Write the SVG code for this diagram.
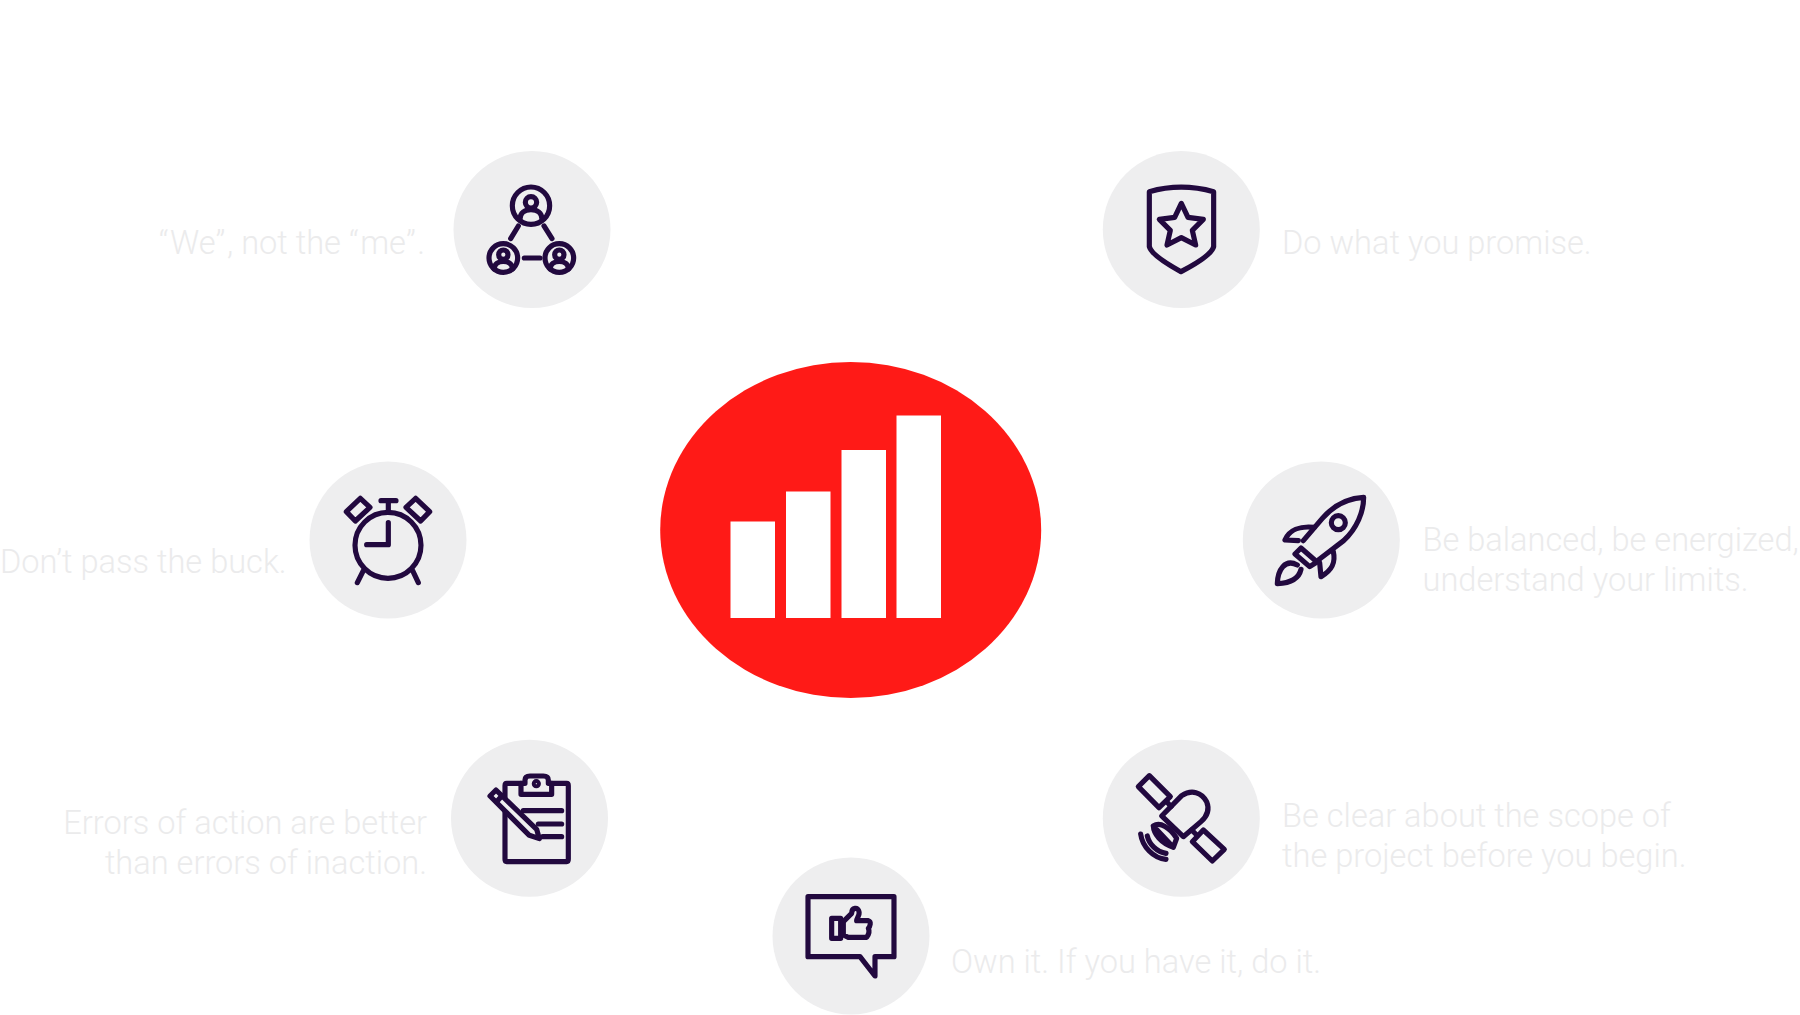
<svg xmlns="http://www.w3.org/2000/svg" width="1800" height="1015" viewBox="0 0 1800 1015">
<style>
.bg{fill:#eeeeef}
.i{fill:none;stroke:#22093f;stroke-width:15.5;stroke-linejoin:round;stroke-linecap:round}
.t{font-family:Roboto,"Liberation Sans",sans-serif;font-weight:300;font-size:32.6px;fill:#ebebec}
.e{text-anchor:end}
.q{letter-spacing:1.5px}
.b{fill:#fff}
</style>
<rect width="1800" height="1015" fill="#fff"/>
<g id="center"><ellipse cx="850.7" cy="530" rx="190.5" ry="168" fill="#ff1a17"/>
<rect class="b" x="730.5" y="521.5" width="44.5" height="96.5"/><rect class="b" x="786" y="491.5" width="44.5" height="126.5"/><rect class="b" x="841.5" y="450" width="44.5" height="168"/><rect class="b" x="896.5" y="415.5" width="44.5" height="202.5"/></g>
<g id="connectors"/>
<g id="team"><circle class="bg" cx="532" cy="229.5" r="78.5"/>
<g transform="translate(440,140) scale(.3333)" class="i"><circle cx="273" cy="197" r="56"/><circle cx="273" cy="187" r="17"/><path d="M240,238C240,218 255,209 273,209S306,218 306,238"/><circle cx="190" cy="354" r="43"/><circle cx="190" cy="344" r="14"/><path d="M163,387C163,372 175,364 190,364S217,372 217,387"/><circle cx="358" cy="354" r="43"/><circle cx="358" cy="344" r="14"/><path d="M331,387C331,372 343,364 358,364S385,372 385,387"/><path d="M235,258L212,296M312,258L336,296M253,354H300"/></g>
<text class="t e" x="425" y="254"><tspan class="q">“</tspan>We<tspan class="q">”</tspan>, not the <tspan class="q">“</tspan>me<tspan class="q">”</tspan>.</text></g>
<g id="promise"><circle class="bg" cx="1181.3" cy="229.5" r="78.5"/>
<g transform="translate(1095,140) scale(.3333)" class="i"><path d="M163,155Q258,128 356,155V320Q350,347 258,395Q170,347 163,320Z"/><path d="M259,190L279,232L325,238L292,271L302,315L259,293L216,315L226,271L193,238L239,232Z"/></g>
<text class="t" x="1282" y="254">Do what you promise.</text></g>
<g id="clock"><circle class="bg" cx="388" cy="540" r="78.5"/>
<g transform="translate(300,450) scale(.3333)" class="i"><circle cx="264" cy="286" r="99"/><path d="M265,152V187M243,152H288M265,218V284H200M190,362L172,398M338,362L355,398"/><path d="M139,185L181,145L210,172L166,213ZM318,172L347,145L389,185L362,213Z"/></g>
<text class="t" x="0" y="573">Don’t pass the buck.</text></g>
<g id="rocket"><circle class="bg" cx="1321.3" cy="540" r="78.5"/>
<g transform="translate(1235,450) scale(.3333)" class="i"><path d="M205,272L262,205C300,162 345,144 386,142C386,185 366,235 326,272L250,330"/><path d="M180,312L198,294L246,336L224,350Z"/><path d="M187,345C150,325 128,360 127,401C165,399 192,385 198,358"/><path d="M238,232C195,227 162,240 150,270L190,272"/><path d="M295,305C303,340 290,362 258,380L254,338"/><circle cx="310" cy="218" r="21"/></g>
<text class="t" x="1422.5" y="551">Be balanced, be energized,</text><text class="t" x="1422.5" y="591">understand your limits.</text></g>
<g id="clipboard"><circle class="bg" cx="529.5" cy="818.3" r="78.5"/>
<g transform="translate(440,730) scale(.3333)" class="i"><path d="M243,160H200Q195,160 195,167V388Q195,395 200,395H380Q385,395 385,388V167Q385,160 380,160H335"/><path d="M243,160H255V150Q255,138 270,138H310Q325,138 325,150V160H335V193H243Z"/><circle cx="289" cy="161" r="6"/><path d="M250,242H365M295,282H365M308,320H365"/><path style="fill:#eeeeef" d="M150,198L168,180L290,298L298,326L268,316Z"/><path d="M170,215L186,197"/></g>
<text class="t e" x="427" y="834">Errors of action are better</text><text class="t e" x="427" y="874">than errors of inaction.</text></g>
<g id="satellite"><circle class="bg" cx="1181.3" cy="818.3" r="78.5"/>
<g transform="translate(1095,730) scale(.3333)" class="i"><path d="M163,137L226,200L192,233L130,170ZM325,300L388,358L352,393L292,335Z"/><path d="M200,258L260,197C290,177 320,187 335,215C345,240 335,260 318,275L265,320Z"/><path d="M215,215L228,230M290,300L305,315"/><path d="M175,288C195,275 225,292 245,325L235,352L175,288C176,312 198,340 235,352"/><path d="M137,312C142,350 175,385 213,388M157,318C162,342 185,366 213,370"/></g>
<text class="t" x="1282" y="827">Be clear about the scope of</text><text class="t" x="1282" y="867">the project before you begin.</text></g>
<g id="thumb"><circle class="bg" cx="851" cy="936" r="78.5"/>
<g transform="translate(760,850) scale(.3333)" class="i"><path d="M144,140H402V320H345V378L300,320H144Z"/><path d="M215,205H242V265H215Z"/><path d="M250,215L275,190C275,172 295,170 297,185C300,195 290,205 290,212H325C335,215 330,230 325,235C330,245 325,255 320,262H265L250,255Z"/></g>
<text class="t" x="951" y="973">Own it. If you have it, do it.</text></g>
</svg>
